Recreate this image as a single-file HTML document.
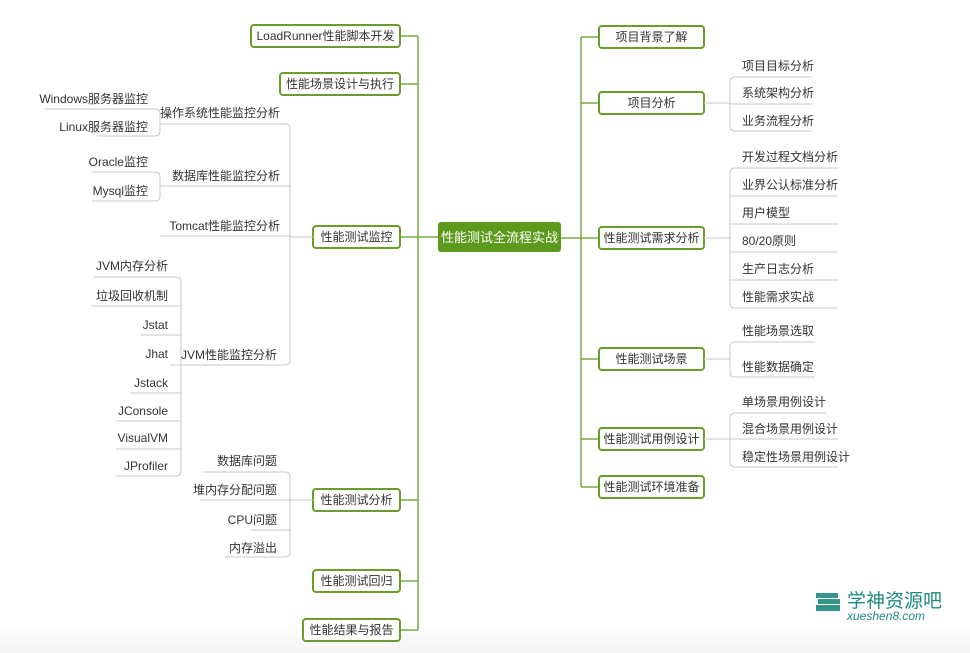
<!DOCTYPE html>
<html><head><meta charset="utf-8"><style>
html,body{margin:0;padding:0;background:#fff;}
svg{display:block;font-family:"Liberation Sans","Noto Sans CJK SC",sans-serif;}
.g{stroke:#78a844;stroke-width:1.5;fill:none}
.l{stroke:#c8c8c8;stroke-width:1;fill:none}
.b{fill:#fff;stroke:#6a9e2c;stroke-width:2}
text{font-size:12px;fill:#333}
.c{text-anchor:middle}
.r{text-anchor:end}
</style></head><body>
<svg width="970" height="653" viewBox="0 0 970 653">
<defs><linearGradient id="bg" x1="0" y1="0" x2="0" y2="1"><stop offset="0" stop-color="#fff"/><stop offset="1" stop-color="#f4f4f4"/></linearGradient></defs>
<rect x="0" y="625" width="970" height="28" fill="url(#bg)"/>
<path class="g" d="M418 36V630 M400 36H418 M400 84H418 M400 237H438 M400 500H418 M400 581H418 M400 630H418"/>
<path class="g" d="M581 37V487 M561 238H599 M581 37H599 M581 103H599 M581 359H599 M581 439H599 M581 487H599"/>
<rect x="438" y="222" width="123" height="30" rx="3" fill="#5c9a1b"/>
<text x="499.5" y="242" class="c" style="font-size:13px;fill:#fff">性能测试全流程实战</text>
<rect class="b" x="251" y="25" width="149" height="22" rx="3"/><text x="325.5" y="40" class="c">LoadRunner性能脚本开发</text>
<rect class="b" x="280" y="73" width="120" height="22" rx="3"/><text x="340" y="88" class="c">性能场景设计与执行</text>
<rect class="b" x="313" y="226" width="87" height="22" rx="3"/><text x="356.5" y="241" class="c">性能测试监控</text>
<rect class="b" x="313" y="489" width="87" height="22" rx="3"/><text x="356.5" y="504" class="c">性能测试分析</text>
<rect class="b" x="313" y="570" width="87" height="22" rx="3"/><text x="356.5" y="585" class="c">性能测试回归</text>
<rect class="b" x="303" y="619" width="97" height="22" rx="3"/><text x="351.5" y="634" class="c">性能结果与报告</text>
<rect class="b" x="599" y="26" width="105" height="22" rx="3"/><text x="651.5" y="41" class="c">项目背景了解</text>
<rect class="b" x="599" y="92" width="105" height="22" rx="3"/><text x="651.5" y="107" class="c">项目分析</text>
<rect class="b" x="599" y="227" width="105" height="22" rx="3"/><text x="651.5" y="242" class="c">性能测试需求分析</text>
<rect class="b" x="599" y="348" width="105" height="22" rx="3"/><text x="651.5" y="363" class="c">性能测试场景</text>
<rect class="b" x="599" y="428" width="105" height="22" rx="3"/><text x="651.5" y="443" class="c">性能测试用例设计</text>
<rect class="b" x="599" y="476" width="105" height="22" rx="3"/><text x="651.5" y="491" class="c">性能测试环境准备</text>
<path class="l" d="M160 124H285Q290 124 290 129V360Q290 365 285 365H181 M290 237H313 M160 186H290 M160 236H290"/>
<text x="280" y="117" class="r">操作系统性能监控分析</text>
<text x="280" y="180" class="r">数据库性能监控分析</text>
<text x="280" y="230" class="r">Tomcat性能监控分析</text>
<text x="277" y="359" class="r">JVM性能监控分析</text>
<path class="l" d="M45 109H155Q160 109 160 114V131Q160 136 155 136H97"/>
<text x="148" y="103" class="r">Windows服务器监控</text>
<text x="148" y="131" class="r">Linux服务器监控</text>
<path class="l" d="M92 172H155Q160 172 160 177V196Q160 201 155 201H92"/>
<text x="148" y="166" class="r">Oracle监控</text>
<text x="148" y="195" class="r">Mysql监控</text>
<path class="l" d="M94 277H176Q181 277 181 282V471Q181 476 176 476H116 M91 306H181 M141 335H181 M170 365H181 M130 393H181 M116 421H181 M116 449H181"/>
<text x="168" y="270" class="r">JVM内存分析</text>
<text x="168" y="300" class="r">垃圾回收机制</text>
<text x="168" y="329" class="r">Jstat</text>
<text x="168" y="358" class="r">Jhat</text>
<text x="168" y="387" class="r">Jstack</text>
<text x="168" y="415" class="r">JConsole</text>
<text x="168" y="442" class="r">VisualVM</text>
<text x="168" y="470" class="r">JProfiler</text>
<path class="l" d="M203 472H285Q290 472 290 477V552Q290 557 285 557H225 M200 500H313 M250 530H290"/>
<text x="277" y="465" class="r">数据库问题</text>
<text x="277" y="494" class="r">堆内存分配问题</text>
<text x="277" y="524" class="r">CPU问题</text>
<text x="277" y="552" class="r">内存溢出</text>
<path class="l" d="M704 103H730 M812 77H735Q730 77 730 82V126Q730 131 735 131H812 M730 104H812"/>
<text x="742" y="70">项目目标分析</text>
<text x="742" y="97">系统架构分析</text>
<text x="742" y="125">业务流程分析</text>
<path class="l" d="M704 238H730 M838 168H735Q730 168 730 173V303Q730 308 735 308H838 M730 196H838 M730 224H838 M730 252H838 M730 280H838"/>
<text x="742" y="161">开发过程文档分析</text>
<text x="742" y="189">业界公认标准分析</text>
<text x="742" y="217">用户模型</text>
<text x="742" y="245">80/20原则</text>
<text x="742" y="273">生产日志分析</text>
<text x="742" y="301">性能需求实战</text>
<path class="l" d="M704 359H730 M815 342H735Q730 342 730 347V372Q730 377 735 377H815"/>
<text x="742" y="335">性能场景选取</text>
<text x="742" y="371">性能数据确定</text>
<path class="l" d="M704 439H838 M826 413H735Q730 413 730 418V462Q730 467 735 467H838"/>
<text x="742" y="406">单场景用例设计</text>
<text x="742" y="433">混合场景用例设计</text>
<text x="742" y="461">稳定性场景用例设计</text>
<g fill="#1f8a7e">
<path d="M816 593h22v5h-22z M818 599h22v5h-22z M816 605h24v6h-24z" opacity="0.9"/>
</g>
<text x="847" y="607" style="font-size:19px;fill:#1f8a7e">学神资源吧</text>
<text x="847" y="620" style="font-size:12px;fill:#1f8a7e;font-style:italic">xueshen8.com</text>
</svg>
</body></html>
